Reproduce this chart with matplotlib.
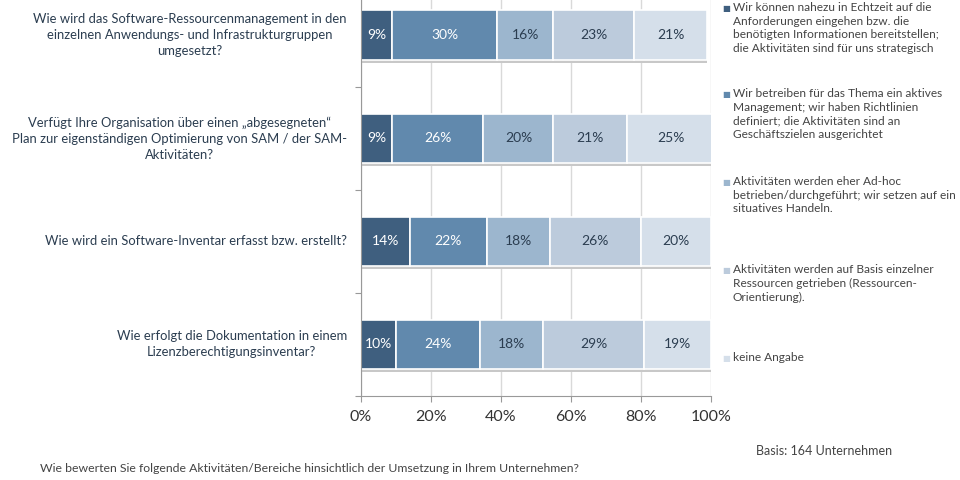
import numpy as np
import matplotlib
matplotlib.use("Agg")
from matplotlib import pyplot as plt
from matplotlib.ticker import PercentFormatter

plt.rcParams['font.family'] = ['Lato', 'DejaVu Sans']

# Questions (top to bottom)
questions = [
    "Wie wird das Software-Ressourcenmanagement in den\neinzelnen Anwendungs- und Infrastrukturgruppen\numgesetzt?",
    "Verfügt Ihre Organisation über einen „abgesegneten“\nPlan zur eigenständigen Optimierung von SAM / der SAM-\nAktivitäten?",
    "Wie wird ein Software-Inventar erfasst bzw. erstellt?",
    "Wie erfolgt die Dokumentation in einem\nLizenzberechtigungsinventar?",
]

legend_labels = [
    "Wir können nahezu in Echtzeit auf die\nAnforderungen eingehen bzw. die\nbenötigten Informationen bereitstellen;\ndie Aktivitäten sind für uns strategisch",
    "Wir betreiben für das Thema ein aktives\nManagement; wir haben Richtlinien\ndefiniert; die Aktivitäten sind an\nGeschäftszielen ausgerichtet",
    "Aktivitäten werden eher Ad-hoc\nbetrieben/durchgeführt; wir setzen auf ein\nsituatives Handeln.",
    "Aktivitäten werden auf Basis einzelner\nRessourcen getrieben (Ressourcen-\nOrientierung).",
    "keine Angabe",
]

# share per answer, one list per answer category, order = questions
echtzeit = [9, 9, 14, 10]
aktiv = [30, 26, 22, 24]
adhoc = [16, 20, 18, 18]
ressourcen = [23, 21, 26, 29]
keine = [21, 25, 20, 19]
series = [echtzeit, aktiv, adhoc, ressourcen, keine]

colors = ["#3f5f7f", "#6189ad", "#9cb6ce", "#bccbdc", "#d5dfea"]
text_colors = ["white", "white", "#2b3d50", "#2b3d50", "#2b3d50"]

fig = plt.figure(figsize=(9.6, 4.8), dpi=100)
ax = fig.add_axes([0.376, 0.175, 0.7406 - 0.376, 1.034 - 0.175])

y = np.arange(len(questions))
left = np.zeros(len(questions))
for vals, c, tc in zip(series, colors, text_colors):
    vals = np.array(vals, dtype=float)
    # faint shadow under each segment
    ax.barh(y + 0.03, vals, left=left, height=0.48, color="#c8c8c8",
            edgecolor="none", zorder=1)
    ax.barh(y, vals, left=left, height=0.48, color=c, edgecolor="white",
            linewidth=1.2, zorder=2)
    for yi, l, v in zip(y, left, vals):
        ax.text(l + v / 2, yi, f"{int(v)}%", ha="center", va="center",
                fontsize=10, color=tc, zorder=3)
    left += vals

ax.set_xlim(0, 100)
ax.set_ylim(len(questions) - 0.5, -0.5)
ax.set_xticks(np.arange(0, 101, 20))
ax.xaxis.set_major_formatter(PercentFormatter(decimals=0))
ax.set_yticks(np.arange(-0.5, len(questions), 1))
ax.set_yticklabels([])
ax.tick_params(axis="y", length=4, color="#999999", direction="out")
ax.tick_params(axis="x", length=4, color="#999999", labelsize=11.5,
               labelcolor="#333333", pad=6)
ax.xaxis.grid(True, color="#d9d9d9", linewidth=1, zorder=0)
ax.set_axisbelow(True)
for s in ["top", "right"]:
    ax.spines[s].set_visible(False)
for s in ["left", "bottom"]:
    ax.spines[s].set_color("#999999")

for yi, q in zip(y, questions):
    ax.annotate(q, xy=(0, yi), xycoords=("axes fraction", "data"),
                xytext=(-14, 0), textcoords="offset pixels",
                ha="right", va="center", multialignment="center",
                fontsize=9.4, color="#2b3d50", linespacing=1.4)

# legend drawn as text blocks to the right (first-line centre in px)
legend_y = [8, 94, 182, 270, 358]
for lab, c, cy in zip(legend_labels, colors, legend_y):
    fy = 1 - cy / 480
    fig.text(0.7525, fy, "■", fontsize=6, color=c, va="center", ha="left",
             family="DejaVu Sans")
    fig.text(0.7635, fy + 6 / 480, lab, fontsize=8.6, color="#444444",
             va="top", ha="left", linespacing=1.3)

fig.text(0.788, 0.06, "Basis: 164 Unternehmen", fontsize=9,
         color="#444444", ha="left", va="center")
fig.text(0.042, 0.025,
         "Wie bewerten Sie folgende Aktivitäten/Bereiche hinsichtlich der Umsetzung in Ihrem Unternehmen?",
         fontsize=8.85, color="#444444", ha="left", va="center")

fig.savefig("out.png", dpi=100)
